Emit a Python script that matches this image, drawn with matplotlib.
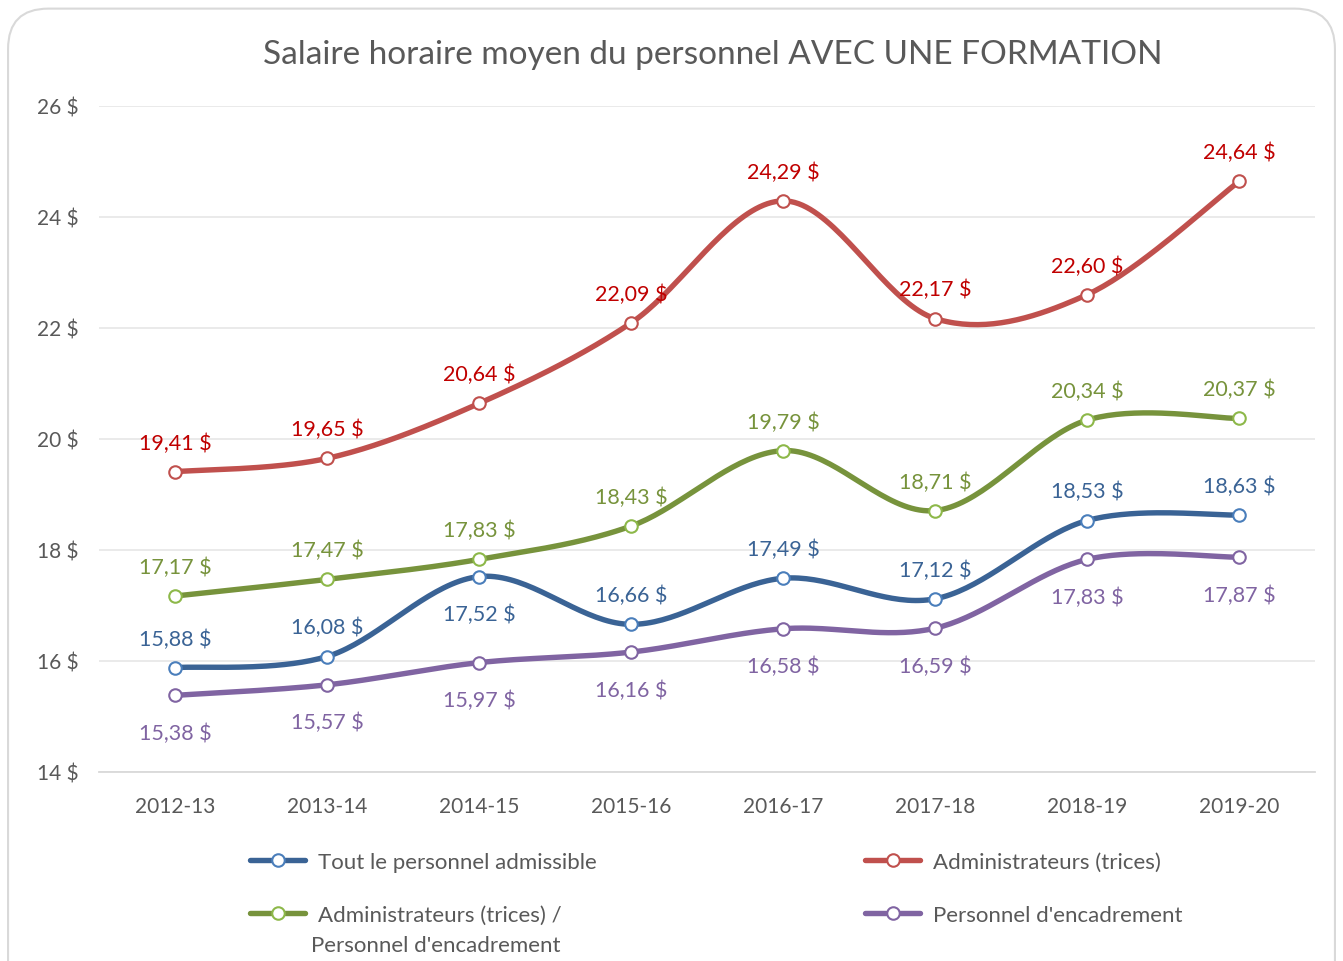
import numpy as np
import matplotlib.pyplot as plt
from matplotlib.patches import FancyBboxPatch
from matplotlib.lines import Line2D

plt.rcParams['font.family'] = ['Lato', 'DejaVu Sans']

years = ['2012-13', '2013-14', '2014-15', '2015-16', '2016-17', '2017-18', '2018-19', '2019-20']
tout = [15.88, 16.08, 17.52, 16.66, 17.49, 17.12, 18.53, 18.63]
admin = [19.41, 19.65, 20.64, 22.09, 24.29, 22.17, 22.60, 24.64]
admin_enc = [17.17, 17.47, 17.83, 18.43, 19.79, 18.71, 20.34, 20.37]
encadr = [15.38, 15.57, 15.97, 16.16, 16.58, 16.59, 17.83, 17.87]

names = ['Tout le personnel admissible', 'Administrateurs (trices)',
         'Administrateurs (trices) /', 'Personnel d\'encadrement']
line_cols = ['#3A6395', '#C0504D', '#77933C', '#8064A2']
edge_cols = ['#4A7EBB', '#C0504D', '#8DB849', '#8064A2']
lab_cols = ['#3A6395', '#C00000', '#77933C', '#8064A2']
# label offset: + above, - below
offsets = [[1, 1, -1, 1, 1, 1, 1, 1], [1] * 8, [1] * 8, [-1] * 8]
# legend anchor (figure coords) for each series
leg_pos = [(0.186, 0.1029), (0.644, 0.1029), (0.186, 0.0478), (0.644, 0.0478)]


def smooth(xs, ys, n=40):
    pts = np.column_stack([xs, ys]).astype(float)
    P = np.vstack([pts[0], pts, pts[-1]])
    out = []
    for i in range(len(pts) - 1):
        p0, p1, p2, p3 = P[i], P[i + 1], P[i + 2], P[i + 3]
        c1 = p1 + (p2 - p0) / 6
        c2 = p2 - (p3 - p1) / 6
        t = np.linspace(0, 1, n)[:, None]
        seg = (1 - t) ** 3 * p1 + 3 * (1 - t) ** 2 * t * c1 + 3 * (1 - t) * t ** 2 * c2 + t ** 3 * p2
        out.append(seg if i == 0 else seg[1:])
    return np.vstack(out)


fig = plt.figure(figsize=(13.43, 9.62), dpi=100)
fig.patches.append(FancyBboxPatch((0.006, -0.05), 0.988, 1.04, boxstyle='round,pad=0,rounding_size=0.03',
                                  transform=fig.transFigure, fc='white', ec='#D9D9D9', lw=1.5,
                                  mutation_aspect=1343 / 962, zorder=-10))
ax = fig.add_axes([0.0737, 0.1965, 0.9055, 0.6923])
ax.set_facecolor('none')

x = np.arange(len(years))
series = [tout, admin, admin_enc, encadr]
for ys, name, lc, ec, tc, offs, pos in zip(series, names, line_cols, edge_cols, lab_cols, offsets, leg_pos):
    curve = smooth(x, ys)
    ax.plot(curve[:, 0], curve[:, 1], color=lc, lw=3.9, solid_capstyle='round', zorder=3)
    ax.plot(x, ys, 'o', ms=9, mfc='white', mec=ec, mew=1.5, zorder=4)
    for xi, yi, o in zip(x, ys, offs):
        txt = f'{yi:.2f}'.replace('.', ',') + ' $'
        ax.annotate(txt, (xi, yi), xytext=(0, 24 * o - 3), textcoords='offset points',
                    ha='center', va='center', color=tc, fontsize=15.5)
    h = Line2D([0], [0], color=lc, lw=3.9, marker='o', ms=9, mfc='white', mec=ec, mew=1.5,
               solid_capstyle='round')
    leg = fig.legend([h], [name], loc='center left', bbox_to_anchor=pos, frameon=False,
                     fontsize=16, labelcolor='#595959', handlelength=2.5, handletextpad=0.55,
                     borderpad=0, borderaxespad=0, numpoints=1)

fig.text(311 / 1343, 0.0166, 'Personnel d\'encadrement', ha='left', va='center',
         fontsize=16, color='#595959')

ax.set_xlim(-0.5, len(years) - 0.5)
ax.set_ylim(14, 26)
ax.set_yticks(range(14, 27, 2))
ax.set_yticklabels([f'{v} $' for v in range(14, 27, 2)])
ax.set_xticks(x)
ax.set_xticklabels(years)
ax.tick_params(length=0, labelsize=15, colors='#595959')
ax.tick_params(axis='y', pad=15)
ax.tick_params(axis='x', pad=17)
ax.grid(axis='y', color='#E8E8E8', lw=1.3)
ax.set_axisbelow(True)
for s in ['top', 'right', 'left']:
    ax.spines[s].set_visible(False)
ax.spines['bottom'].set_color('#D9D9D9')
ax.spines['bottom'].set_linewidth(1.3)

fig.text(0.531, 0.943, 'Salaire horaire moyen du personnel AVEC UNE FORMATION', ha='center', va='center',
         fontsize=24, color='#595959')

fig.savefig('out.png', dpi=100)
